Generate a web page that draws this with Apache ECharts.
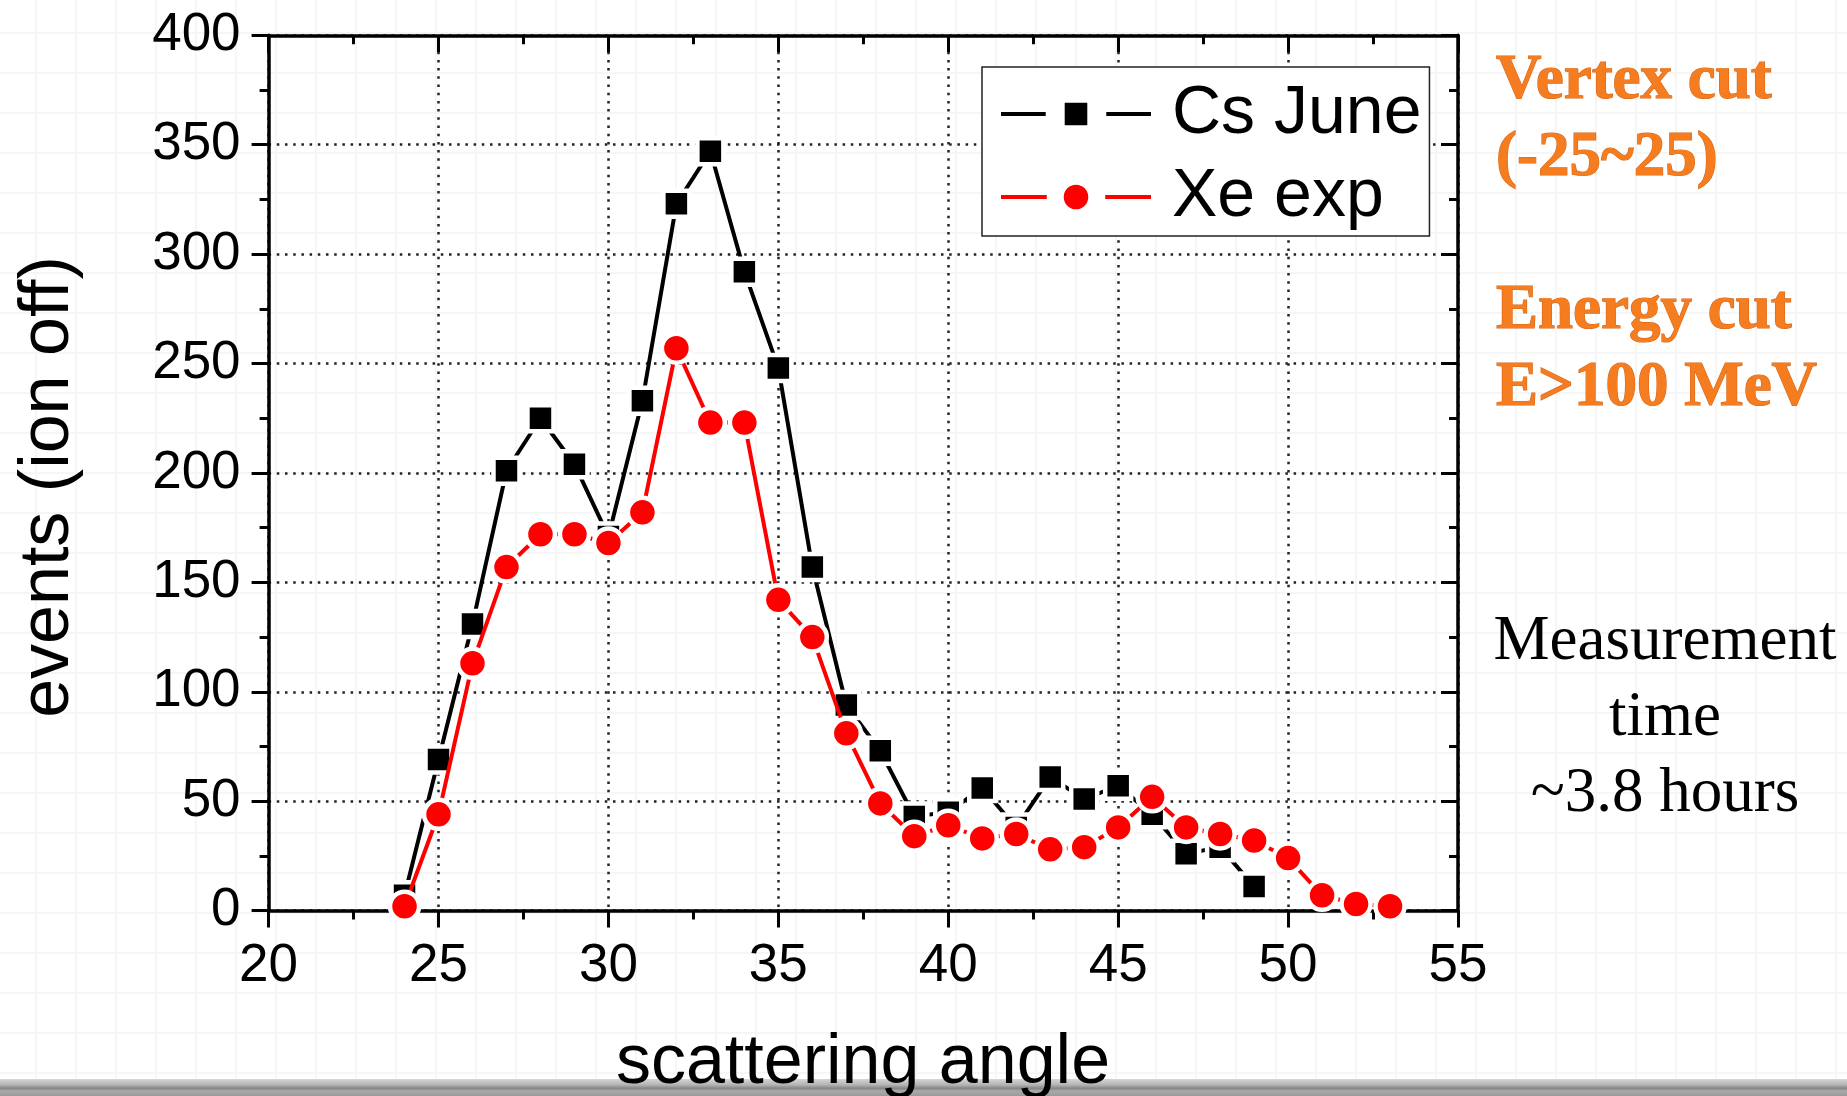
<!DOCTYPE html>
<html>
<head>
<meta charset="utf-8">
<title>events (ion off) vs scattering angle</title>
<script src="https://cdn.jsdelivr.net/npm/echarts@6/dist/echarts.min.js"></script>
<style>
  html, body { margin: 0; padding: 0; background: #fff; }
  #chart {
    width: 1847px; height: 1096px;
    background-color: #fff;
    /* faint slide grid behind everything */
    background-image:
      linear-gradient(to right, #f6f6f6 0, #f6f6f6 2px, transparent 2px),
      linear-gradient(to bottom, #f6f6f6 0, #f6f6f6 2px, transparent 2px);
    background-size: 40px 40px;
    background-position: 35px 32px;
  }
</style>
</head>
<body>
<div id="chart"></div>
<script>
// ---- data ----
const csAngles = [24, 25, 26, 27, 28, 29, 30, 31, 32, 33, 34, 35, 36, 37, 38, 39, 40, 41, 42, 43, 44, 45, 46, 47, 48, 49];
const csEvents = [7, 69, 131, 201, 225, 204, 171, 233, 323, 347, 292, 248, 157, 94, 73, 43, 45, 56, 38, 61, 51, 57, 44, 26, 29, 11];

const xeAngles = [24, 25, 26, 27, 28, 29, 30, 31, 32, 33, 34, 35, 36, 37, 38, 39, 40, 41, 42, 43, 44, 45, 46, 47, 48, 49, 50, 51, 52, 53];
const xeEvents = [2, 44, 113, 157, 172, 172, 168, 182, 257, 223, 223, 142, 125, 81, 49, 34, 39, 33, 35, 28, 29, 38, 52, 38, 35, 32, 24, 7, 3, 2];

const seriesNames = ['Cs June', 'Xe exp'];

const xTicks = { min: 20, max: 55, step: 5 };
const yTicks = { min: 0, max: 400, step: 50 };

const xTitle = 'scattering angle';
const yTitle = 'events (ion off)';
const cutNotes = ['Vertex cut', '(-25~25)', 'Energy cut', 'E>100 MeV'];
const timeNote = ['Measurement', 'time', '~3.8 hours'];

// ---- styles ----
const SANS = '"Liberation Sans", Arial, sans-serif';
const SERIF = '"Liberation Serif", "Times New Roman", serif';
const AXIS_W = 3.5;

function zip(xs, ys) { return xs.map((x, i) => [x, ys[i]]); }

function axisBase(range, pos, inside, labels) {
  return {
    type: 'value',
    position: pos,
    min: range.min, max: range.max, interval: range.step,
    axisLine: { show: true, onZero: false, lineStyle: { color: '#000', width: AXIS_W } },
    axisTick: { show: true, inside: inside, length: 17, lineStyle: { color: '#000', width: 3 } },
    minorTick: { show: true, splitNumber: 2, length: 9, lineStyle: { color: '#000', width: 3 } },
    axisLabel: labels ? { show: true, fontFamily: SANS, fontSize: 53, color: '#000' } : { show: false },
    splitLine: { show: false },
    minorSplitLine: { show: false }
  };
}

const gridDots = { show: true, lineStyle: { color: '#222', width: 2.5, type: [2.5, 5.7] } };

const xBottom = axisBase(xTicks, 'bottom', false, true);
xBottom.axisLabel.margin = 29;
xBottom.splitLine = gridDots;
const xTop = axisBase(xTicks, 'top', true, false);

const yLeft = axisBase(yTicks, 'left', false, true);
yLeft.axisLabel.margin = 28;
yLeft.splitLine = gridDots;
const yRight = axisBase(yTicks, 'right', true, false);

function orangeText(txt, y) {
  return {
    type: 'text', x: 1496, y: y, z: 5,
    style: {
      text: txt, font: 'bold 63px ' + SERIF,
      fill: '#f57d20', stroke: '#d8691c', lineWidth: 1.2,
      textAlign: 'left', textVerticalAlign: 'middle',
      shadowColor: 'rgba(90,40,0,0.35)', shadowBlur: 4, shadowOffsetY: 2
    }
  };
}

function blackText(txt, y) {
  return {
    type: 'text', x: 1665, y: y, z: 5,
    style: {
      text: txt, font: '63px ' + SERIF, fill: '#000',
      textAlign: 'center', textVerticalAlign: 'middle'
    }
  };
}

const chart = echarts.init(document.getElementById('chart'), null, { renderer: 'canvas' });

chart.setOption({
  animation: false,
  backgroundColor: 'transparent',
  grid: { left: 268.6, top: 35.3, width: 1189.4, height: 875.3, containLabel: false, outerBoundsMode: 'none' },
  xAxis: [xBottom, xTop],
  yAxis: [yLeft, yRight],
  legend: {
    orient: 'vertical',
    left: 982, top: 67,
    padding: [12, 8, 4, 17],
    itemWidth: 150, itemHeight: 52, itemGap: 13,
    backgroundColor: '#fff',
    borderColor: '#222', borderWidth: 1.5, borderRadius: 0,
    selectedMode: false,
    lineStyle: { width: 4 },
    textStyle: { fontFamily: SANS, fontSize: 68, color: '#000', lineHeight: 70, padding: [0, 0, 0, 16] },
    data: [
      { name: seriesNames[0], itemStyle: { borderColor: '#fff', borderWidth: 19 } },
      { name: seriesNames[1], itemStyle: { borderColor: '#fff', borderWidth: 17 } }
    ]
  },
  series: [
    {
      name: seriesNames[0], type: 'line',
      xAxisIndex: 0, yAxisIndex: 0,
      data: zip(csAngles, csEvents),
      symbol: 'rect', symbolSize: 26,
      lineStyle: { color: '#000', width: 4 },
      itemStyle: { color: '#000', borderColor: '#fff', borderWidth: 4.5 },
      emphasis: { disabled: true },
      z: 3
    },
    {
      name: seriesNames[1], type: 'line',
      xAxisIndex: 0, yAxisIndex: 0,
      data: zip(xeAngles, xeEvents),
      symbol: 'circle', symbolSize: 29,
      lineStyle: { color: '#ff0000', width: 4 },
      itemStyle: { color: '#ff0000', borderColor: '#fff', borderWidth: 4.5 },
      emphasis: { disabled: true },
      z: 4
    }
  ],
  graphic: [
    // slide frame edge along the bottom
    {
      type: 'rect', z: 1,
      shape: { x: 0, y: 1079, width: 1847, height: 17 },
      style: {
        fill: {
          type: 'linear', x: 0, y: 0, x2: 0, y2: 1,
          colorStops: [
            { offset: 0, color: '#d6d6d6' },
            { offset: 0.35, color: '#b3b3b3' },
            { offset: 0.55, color: '#858585' },
            { offset: 0.7, color: '#a9a9a9' },
            { offset: 1, color: '#9a9a9a' }
          ]
        }
      }
    },
    // axis titles
    {
      type: 'text', x: 49, y: 487, rotation: Math.PI / 2, z: 5,
      style: { text: yTitle, font: '70px ' + SANS, fill: '#000', textAlign: 'center', textVerticalAlign: 'middle' }
    },
    {
      type: 'text', x: 863, y: 1064, z: 5,
      style: { text: xTitle, font: '70px ' + SANS, fill: '#000', textAlign: 'center', textVerticalAlign: 'middle' }
    },
    // cut annotations
    orangeText(cutNotes[0], 81.5),
    orangeText(cutNotes[1], 158.5),
    orangeText(cutNotes[2], 311.5),
    orangeText(cutNotes[3], 388.5),
    // measurement time
    blackText(timeNote[0], 642.5),
    blackText(timeNote[1], 718.5),
    blackText(timeNote[2], 794.5)
  ]
});
</script>
</body>
</html>
